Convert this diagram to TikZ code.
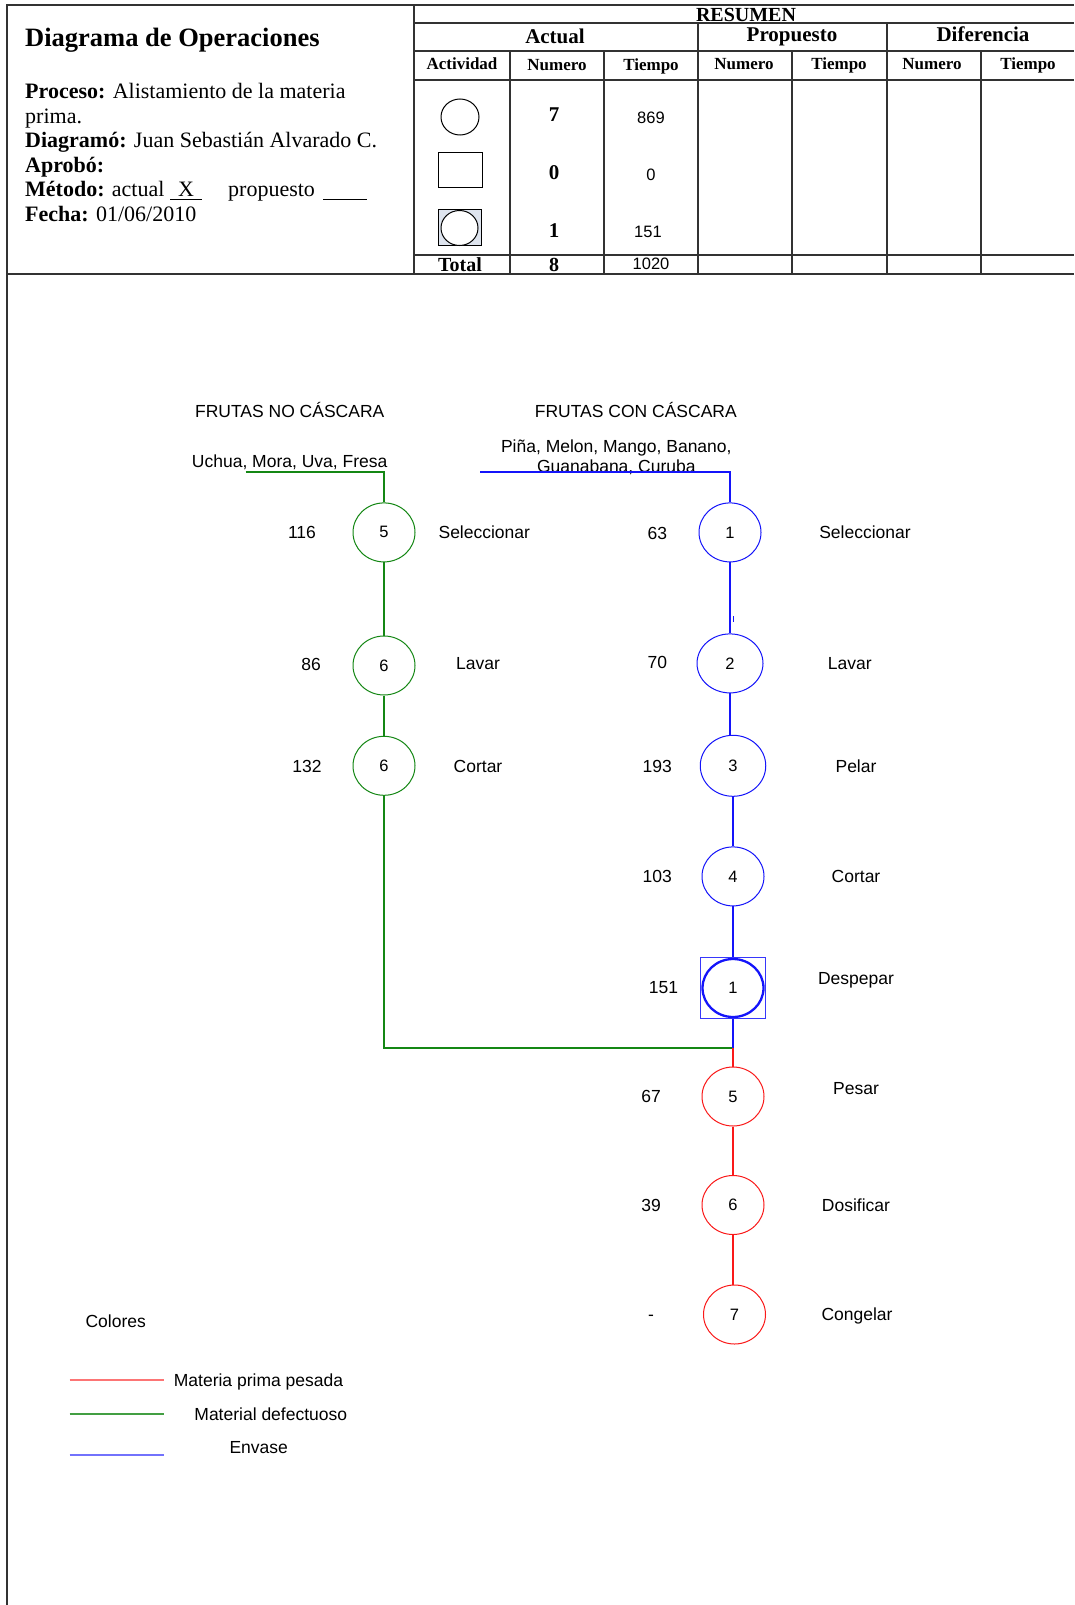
\documentclass[tikz,border=0pt]{standalone}
\usepackage{fontspec}
\setmainfont{Liberation Serif}
\newfontfamily\arialf{Liberation Sans}
\usetikzlibrary{shapes.geometric}
\definecolor{gcol}{RGB}{20,135,20}
\definecolor{bcol}{RGB}{20,20,250}
\definecolor{rcol}{RGB}{250,25,25}
\definecolor{framecol}{RGB}{50,50,50}
\definecolor{symfill}{RGB}{222,228,238}
\begin{document}
\begin{tikzpicture}[x=1pt,y=-1pt,
  frame/.style={draw=framecol,line width=1.2pt},
  hdr/.style={font=\fontsize{22}{24}\selectfont,anchor=base west,inner sep=0pt},
  thd/.style={font=\bfseries\fontsize{21}{23}\selectfont,anchor=base,inner sep=0pt},
  tsub/.style={font=\bfseries\fontsize{17}{19}\selectfont,anchor=base,inner sep=0pt},
  tnum/.style={font=\bfseries\fontsize{21}{23}\selectfont,anchor=base,inner sep=0pt},
  tsans/.style={font=\arialf\fontsize{16.5}{18}\selectfont,anchor=base,inner sep=0pt},
  lab/.style={font=\arialf\fontsize{17.5}{19}\selectfont,inner sep=0pt,text height=12.5pt,text depth=0pt},
  op/.style={ellipse,draw,line width=1pt,fill=white,inner sep=0pt,minimum width=62pt,minimum height=59pt,
             font=\arialf\fontsize{16.5}{18}\selectfont},
  gop/.style={op,draw=gcol},
  bop/.style={op,draw=bcol},
  rop/.style={op,draw=rcol},
  gline/.style={draw=gcol,line width=1.3pt},
  bline/.style={draw=bcol,line width=1.3pt},
  rline/.style={draw=rcol,line width=1.3pt},
  sym/.style={draw=black,line width=1pt,inner sep=0pt}
]
\useasboundingbox (0,0) rectangle (1074,1605);
\fill[white] (0,0) rectangle (1074,1605);

% ---------- frame and table lines ----------
\draw[frame] (7,1605) -- (7,5) -- (1074,5);
\draw[frame] (7,274) -- (1074,274);
\draw[frame] (414,5) -- (414,274);
\draw[frame] (414,23) -- (1074,23);
\draw[frame] (414,51) -- (1074,51);
\draw[frame] (414,80) -- (1074,80);
\draw[frame] (414,255) -- (1074,255);
\foreach \xx in {510,604,792,981} \draw[frame] (\xx,51) -- (\xx,274);
\foreach \xx in {698,887} \draw[frame] (\xx,23) -- (\xx,274);

% ---------- header text ----------
\node[hdr,font=\bfseries\fontsize{26.5}{28}\selectfont] (title) at (25,47) {Diagrama de Operaciones};
\node[hdr] (proc1) at (25,99) {\textbf{Proceso:} Alistamiento de la materia};
\node[hdr] (proc2) at (25,123.5) {prima.};
\node[hdr] (diag) at (25,148) {\textbf{Diagramó:} Juan Sebastián Alvarado C.};
\node[hdr] (aprob) at (25,172.5) {\textbf{Aprobó:}};
\node[hdr] (metodo) at (25,197) {\textbf{Método:} actual};
\node[hdr,anchor=base] (xmark) at (186,197) {X};
\draw[black,line width=0.9pt] (170,199.5) -- (202,199.5);
\node[hdr] (prop) at (228,197) {propuesto};
\draw[black,line width=0.9pt] (323,199.5) -- (367,199.5);
\node[hdr] (fecha) at (25,221.5) {\textbf{Fecha:} 01/06/2010};

% ---------- summary table text ----------
\node[thd,font=\bfseries\fontsize{20}{22}\selectfont] (resumen) at (746,22) {RESUMEN};
\node[thd] (hact) at (555,43.5) {Actual};
\node[thd] (hprop) at (792,42) {Propuesto};
\node[thd] (hdif) at (983,42) {Diferencia};
\node[tsub] (s1) at (462,70) {Actividad};
\node[tsub] (s2) at (557,70.5) {Numero};
\node[tsub] (s3) at (651,70.5) {Tiempo};
\node[tsub] (s4) at (744,69.5) {Numero};
\node[tsub] (s5) at (839,69.5) {Tiempo};
\node[tsub] (s6) at (932,69.5) {Numero};
\node[tsub] (s7) at (1028,69.5) {Tiempo};

\node[sym,ellipse,minimum width=38pt,minimum height=36pt] (a1) at (460,117) {};
\node[sym,rectangle,minimum width=44pt,minimum height=35pt] (a2) at (460,170) {};
\node[sym,rectangle,fill=symfill,minimum width=43pt,minimum height=36pt] (a3) at (459.5,228) {};
\node[sym,ellipse,fill=white,minimum width=37pt,minimum height=35pt] (a3c) at (459.5,228) {};

\node[tnum] (n1) at (554,121.5) {7};
\node[tnum] (n2) at (554,180) {0};
\node[tnum] (n3) at (554,237.3) {1};
\node[tsans] (t1) at (651,123.3) {869};
\node[tsans] (t2) at (651,181) {0};
\node[tsans] (t3) at (648,237.7) {151};
\node[tnum,font=\bfseries\fontsize{20}{22}\selectfont] (tot) at (460,271.5) {Total};
\node[tnum,font=\bfseries\fontsize{20}{22}\selectfont] (tot8) at (554,271.5) {8};
\node[tsans] (tot2) at (651,269.3) {1020};

% ---------- titles ----------
\node[lab] (tnc) at (289.7,411.6) {FRUTAS NO CÁSCARA};
\node[lab] (tcc) at (635.8,411.6) {FRUTAS CON CÁSCARA};
\node[lab] (fnc) at (289.7,461.7) {Uchua, Mora, Uva, Fresa};
\node[lab] (fcc1) at (616.3,446.4) {Piña, Melon, Mango, Banano,};
\node[lab] (fcc2) at (616.3,465.8) {Guanabana, Curuba};

% ---------- green branch ----------
\coordinate (gs) at (245.7,472);
\node[gop] (g1) at (384,532.4) {5};
\node[gop] (g2) at (384,665.5) {6};
\node[gop] (g3) at (384,765.8) {6};
\node[lab] (g1t) at (302,532.4) {116};
\node[lab] (g2t) at (311,664.4) {86};
\node[lab] (g3t) at (307,765.8) {132};
\node[lab] (g1n) at (484.3,532.4) {Seleccionar};
\node[lab] (g2n) at (478,663.4) {Lavar};
\node[lab] (g3n) at (478,765.8) {Cortar};

% ---------- blue branch ----------
\coordinate (bs) at (480,472);
\node[bop] (b1) at (730,532.4) {1};
\node[bop,minimum width=66pt] (b2) at (730,663.4) {2};
\node[bop,minimum width=65.5pt,minimum height=61pt] (b3) at (733,765.8) {3};
\node[bop] (b4) at (733,876.4) {4};
\node[draw=bcol!85,line width=1pt,rectangle,inner sep=0pt,minimum width=65.5pt,minimum height=61.5pt] (b5box) at (733,988) {};
\node[bop,line width=2.3pt,minimum width=61pt,minimum height=58pt] (b5) at (733,988) {1};
\node[lab] (b1t) at (657.3,533.4) {63};
\node[lab] (b2t) at (657.3,662.4) {70};
\node[lab] (b3t) at (657.3,765.8) {193};
\node[lab] (b4t) at (657.3,876.4) {103};
\node[lab] (b5t) at (663.4,987) {151};
\node[lab] (b1n) at (865,532.4) {Seleccionar};
\node[lab] (b2n) at (849.7,663.4) {Lavar};
\node[lab] (b3n) at (856,765.8) {Pelar};
\node[lab] (b4n) at (856,876.4) {Cortar};
\node[lab] (b5n) at (856,978.7) {Despepar};

% ---------- red branch ----------
\coordinate (jn) at (733,1048);
\node[rop] (r1) at (733,1096.5) {5};
\node[rop] (r2) at (733,1205) {6};
\node[rop] (r3) at (734.5,1314.5) {7};
\node[lab] (r1t) at (651,1096.5) {67};
\node[lab] (r2t) at (651,1205) {39};
\node[lab] (r3t) at (651,1314.5) {-};
\node[lab] (r1n) at (856,1088.3) {Pesar};
\node[lab] (r2n) at (856,1205) {Dosificar};
\node[lab] (r3n) at (857,1314.5) {Congelar};

% ---------- connectors ----------
\draw[gline] (gs) -| (g1.north);
\draw[gline] (g1) -- (g2);
\draw[gline] (g2) -- (g3);
\draw[gline] (g3.south) |- (jn);
\draw[bline] (bs) -| (b1.north);
\draw[bline] (b1) -- (b2);
\draw[bline] (b2.south) -- (b2.south |- b3.north);
\draw[bline] (b3) -- (b4);
\draw[bline] (b4.south) -- (b5box.north);
\draw[bline] (b5box.south) -- (jn);
\draw[rline,line width=2.2pt] (jn) -- (r1.north);
\draw[rline] (r1) -- (r2);
\draw[rline] (r2.south) -- (r2.south |- r3.north);
\draw[draw=bcol,line width=0.8pt] (733,616) -- (733,622);

% ---------- legend ----------
\node[lab] (col) at (115.7,1321.7) {Colores};
\coordinate (l1a) at (69.6,1380);
\coordinate (l1b) at (163.8,1380);
\coordinate (l2a) at (69.6,1414);
\coordinate (l2b) at (163.8,1414);
\coordinate (l3a) at (69.6,1454.8);
\coordinate (l3b) at (163.8,1454.8);
\draw[draw=rcol!60,line width=1.2pt] (l1a) -- (l1b);
\draw[draw=gcol!80,line width=1.2pt] (l2a) -- (l2b);
\draw[draw=bcol!60,line width=1.4pt] (l3a) -- (l3b);
\node[lab] (leg1) at (258.5,1380) {Materia prima pesada};
\node[lab] (leg2) at (270.8,1414) {Material defectuoso};
\node[lab] (leg3) at (258.7,1447.7) {Envase};
\end{tikzpicture}
\end{document}
